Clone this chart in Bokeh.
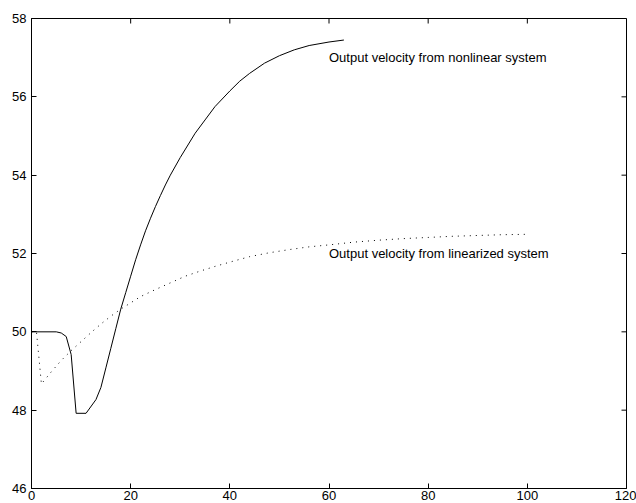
import math
from bokeh.plotting import figure
from bokeh.models import Range1d, FixedTicker
from bokeh.core.properties import value
from bokeh.embed import file_html
from bokeh.resources import INLINE

# Output velocity of the nonlinear system
t_nonlin = [0, 5, 6, 7, 8, 9, 11, 13, 14, 15, 16, 17, 18, 19, 20, 21, 22, 23, 24,
            25, 26, 27, 28, 30, 33, 35, 37, 40, 42, 44, 47, 50, 53, 56, 60, 63]
v_nonlin = [50.0, 50.0, 49.97, 49.88, 49.42, 47.92, 47.92, 48.27, 48.58, 49.08,
            49.58, 50.08, 50.58, 51.0, 51.42, 51.84, 52.22, 52.58, 52.9, 53.2,
            53.48, 53.75, 54.0, 54.45, 55.07, 55.41, 55.75, 56.15, 56.4, 56.6,
            56.86, 57.05, 57.2, 57.31, 57.4, 57.45]

# Output velocity of the linearized system
t_lin = [0, 1, 2, 4, 6, 8, 10, 12, 14, 16, 18, 20, 22, 25, 28, 31, 34, 37, 40,
         44, 48, 52, 56, 60, 65, 70, 75, 80, 85, 90, 95, 100]
v_lin = [50.0, 50.0, 48.67, 48.98, 49.27, 49.52, 49.75, 49.98, 50.2, 50.4,
         50.58, 50.74, 50.9, 51.08, 51.25, 51.42, 51.55, 51.67, 51.78, 51.92,
         52.02, 52.1, 52.17, 52.22, 52.29, 52.34, 52.38, 52.41, 52.44, 52.46,
         52.48, 52.49]

x_ticks = [0, 20, 40, 60, 80, 100, 120]
y_ticks = [46, 48, 50, 52, 54, 56, 58]

label_texts = ["Output velocity from nonlinear system",
               "Output velocity from linearized system"]
label_x = [60, 60]
label_y = [57, 52]

FONT = "Liberation Sans"
X_MIN, X_MAX = 0, 120
Y_MIN, Y_MAX = 46, 58
TICK_LEN = 5  # px, drawn inward

p = figure(width=636, height=503, x_range=Range1d(X_MIN, X_MAX),
           y_range=Range1d(Y_MIN, Y_MAX),
           output_backend="svg", toolbar_location=None,
           min_border_left=31, min_border_right=10, min_border_top=18,
           min_border_bottom=15)
p.xgrid.visible = False
p.ygrid.visible = False
p.background_fill_color = "white"
p.border_fill_color = "white"
p.outline_line_color = "black"
p.outline_line_width = 1


def style_axis(ax, ticks, standoff):
    ax.ticker = FixedTicker(ticks=ticks)
    ax.major_tick_in = TICK_LEN
    ax.major_tick_out = 0
    ax.major_tick_line_width = 1
    ax.minor_tick_line_color = None
    ax.axis_line_color = "black"
    ax.major_tick_line_color = "black"
    ax.major_label_text_font = FONT
    ax.major_label_text_color = "black"
    ax.major_label_text_font_size = "13px"
    ax.major_label_standoff = standoff


style_axis(p.xaxis[0], x_ticks, 2)
style_axis(p.yaxis[0], y_ticks, 5)

# inward tick marks along the top and right edges of the box
p.ray(x=x_ticks, y=[Y_MAX] * len(x_ticks), length=TICK_LEN,
      length_units="screen", angle=-math.pi / 2,
      line_color="black", line_width=1)
p.ray(x=[X_MAX] * len(y_ticks), y=y_ticks, length=TICK_LEN,
      length_units="screen", angle=math.pi,
      line_color="black", line_width=1)

p.line(t_lin, v_lin, line_color="black", line_width=1, line_dash="1 5")
p.line(t_nonlin, v_nonlin, line_color="black", line_width=1)

p.text(x=label_x, y=label_y, text=label_texts, text_font=value(FONT),
       text_font_size="13px", text_align="left", text_baseline="middle",
       text_color="black")

open("out.html", "w").write(file_html(p, INLINE))
